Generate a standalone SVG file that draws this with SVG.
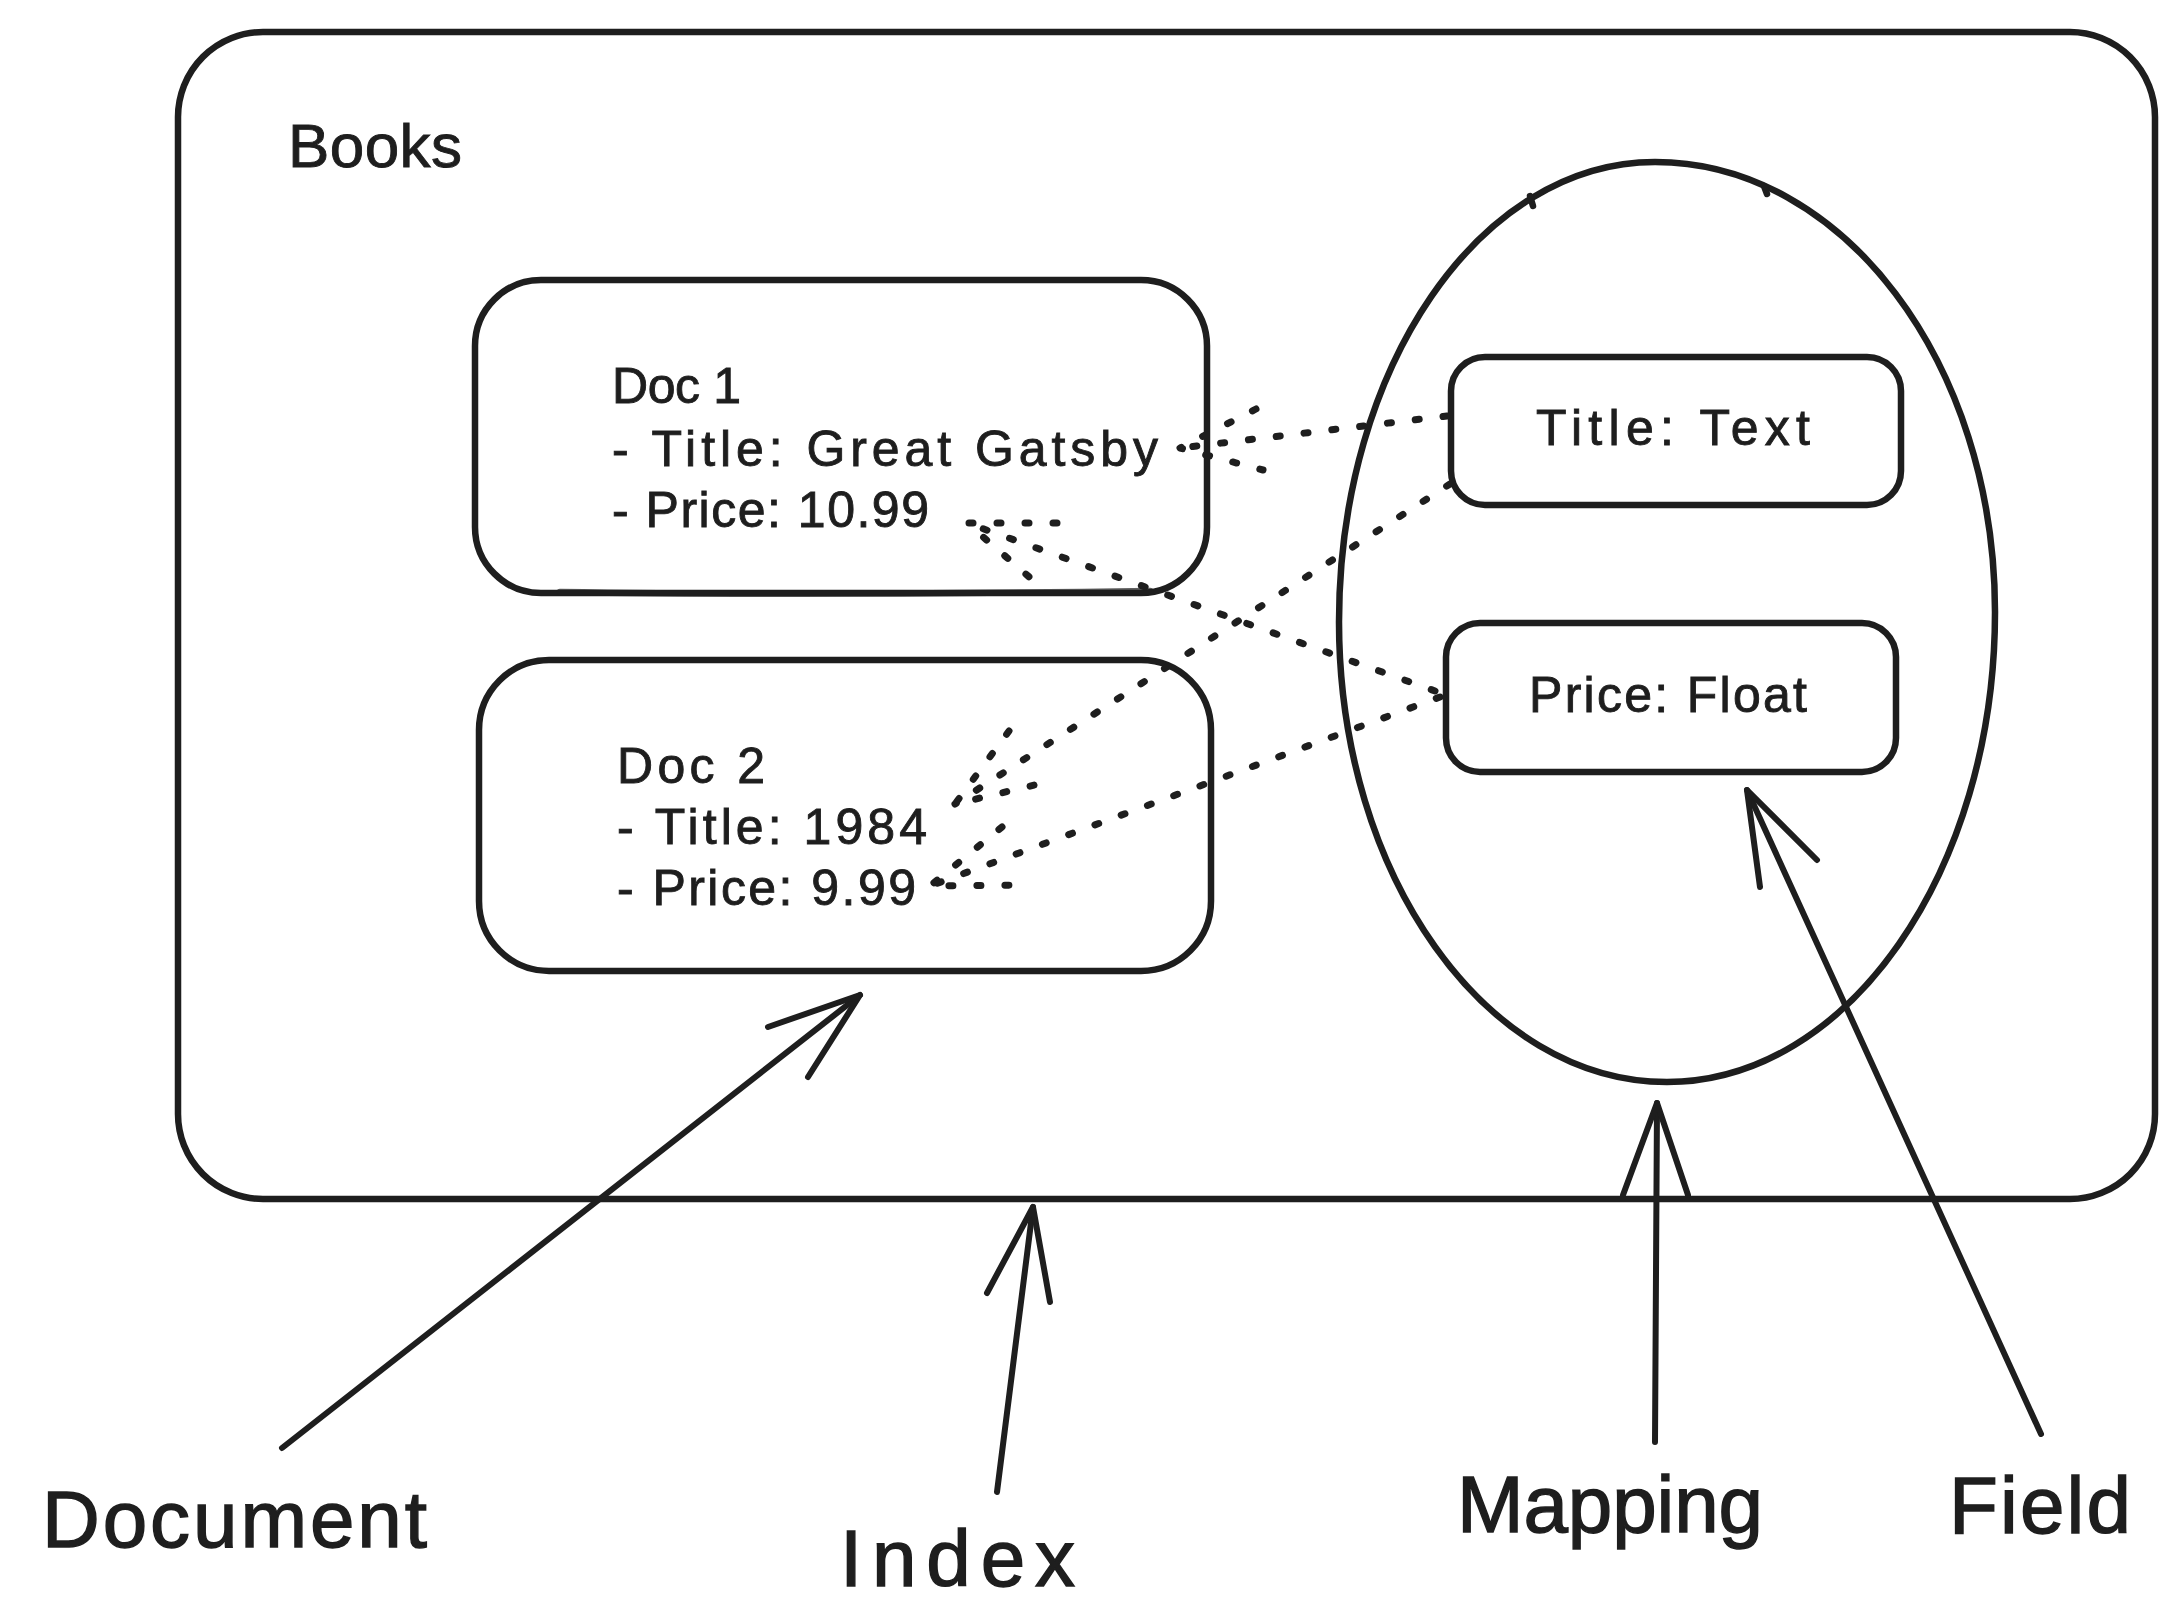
<svg xmlns="http://www.w3.org/2000/svg" width="2180" height="1624" viewBox="0 0 2180 1624">
  <style>
    .sk { fill: none; stroke: #1e1e1e; stroke-width: 6.5; stroke-linecap: round; stroke-linejoin: round; }
    .ar { fill: none; stroke: #1e1e1e; stroke-width: 6; stroke-linecap: round; stroke-linejoin: round; }
    .dot { fill: none; stroke: #1e1e1e; stroke-width: 7; stroke-linecap: round; stroke-linejoin: round; stroke-dasharray: 4 24; }
    .t { font-family: "Liberation Sans", Arial, sans-serif; fill: #1e1e1e; stroke: #1e1e1e; stroke-width: 0.9; }
    .doc { font-size: 50px; }
    .lbl { font-size: 80px; stroke-width: 1.4; }
  </style>
  <rect width="2180" height="1624" fill="#ffffff"/>

  <g id="index-books">
    <rect class="sk" x="178" y="32" width="1977" height="1167" rx="85" ry="85"/>
    <text class="t" x="288" y="167" font-size="62" textLength="174" lengthAdjust="spacing">Books</text>
  </g>

  <g id="doc1">
    <rect class="sk" x="475" y="280" width="732" height="313" rx="66" ry="66"/>
    <path class="sk" d="M560 592 Q 800 596 1150 591" stroke-width="3" opacity="0.7"/>
    <text class="t doc" x="612" y="403" textLength="129" lengthAdjust="spacing">Doc 1</text>
    <text class="t doc" x="612" y="466" textLength="546" lengthAdjust="spacing">- Title: Great Gatsby</text>
    <text class="t doc" x="612" y="527" textLength="317" lengthAdjust="spacing">- Price: 10.99</text>
  </g>

  <g id="doc2">
    <rect class="sk" x="479" y="660" width="732" height="311" rx="70" ry="70"/>
    <text class="t doc" x="617" y="783" textLength="148" lengthAdjust="spacing">Doc 2</text>
    <text class="t doc" x="617" y="844" textLength="310" lengthAdjust="spacing">- Title: 1984</text>
    <text class="t doc" x="617" y="905" textLength="299" lengthAdjust="spacing">- Price: 9.99</text>
  </g>

  <g id="mapping">
    <path class="sk" d="M1655 162 C 1843 162 1995 363 1995 612 C 1995 871 1848 1082 1667 1082 C 1486 1082 1339 875 1339 622 C 1339 367 1480 162 1655 162 Z"/>
    <path class="sk" d="M1530 196 L1533 206" stroke-width="4"/>
    <path class="sk" d="M1764 186 L1767 194" stroke-width="4"/>
  </g>

  <g id="field-title">
    <rect class="sk" x="1451" y="357" width="450" height="148" rx="34" ry="34"/>
    <text class="t doc" x="1536" y="445" textLength="274" lengthAdjust="spacing">Title: Text</text>
  </g>

  <g id="field-price">
    <rect class="sk" x="1446" y="623" width="450" height="149" rx="34" ry="34"/>
    <text class="t doc" x="1529" y="712" textLength="278" lengthAdjust="spacing">Price: Float</text>
  </g>

  <g id="label-document">
    <text class="t lbl" x="42" y="1547" textLength="385" lengthAdjust="spacing">Document</text>
  </g>
  <g id="label-index">
    <text class="t lbl" x="840" y="1586" font-size="86" textLength="235" lengthAdjust="spacing">Index</text>
  </g>
  <g id="label-mapping">
    <text class="t lbl" x="1457" y="1532" textLength="306" lengthAdjust="spacing">Mapping</text>
  </g>
  <g id="label-field">
    <text class="t lbl" x="1949" y="1533" textLength="182" lengthAdjust="spacing">Field</text>
  </g>

  <g id="connectors">
    <!-- dotted mapping links -->
    <path class="dot" d="M1447 416 L1180 448"/>
    <path class="dot" d="M1256 409 L1180 448 L1263 470"/>
    <path class="dot" d="M1435 691 L967 523"/>
    <path class="dot" d="M1057 523 L967 523 L1035 582"/>
    <path class="dot" d="M1450 484 L955 804"/>
    <path class="dot" d="M1009 731 L955 804 L1043 783"/>
    <path class="dot" d="M1440 697 L930 886"/>
    <path class="dot" d="M1002 827 L930 886 L1024 885"/>
    <!-- label arrows -->
    <path class="ar" d="M282 1448 L860 995"/>
    <path class="ar" d="M768 1027 L860 995 L808 1077"/>
    <path class="ar" d="M997 1492 L1033 1207"/>
    <path class="ar" d="M987 1293 L1033 1207 L1050 1302"/>
    <path class="ar" d="M1655 1442 L1657 1103"/>
    <path class="ar" d="M1623 1195 L1657 1103 L1688 1195"/>
    <path class="ar" d="M2041 1434 L1747 790"/>
    <path class="ar" d="M1760 887 L1747 790 L1817 860"/>
  </g>
</svg>
